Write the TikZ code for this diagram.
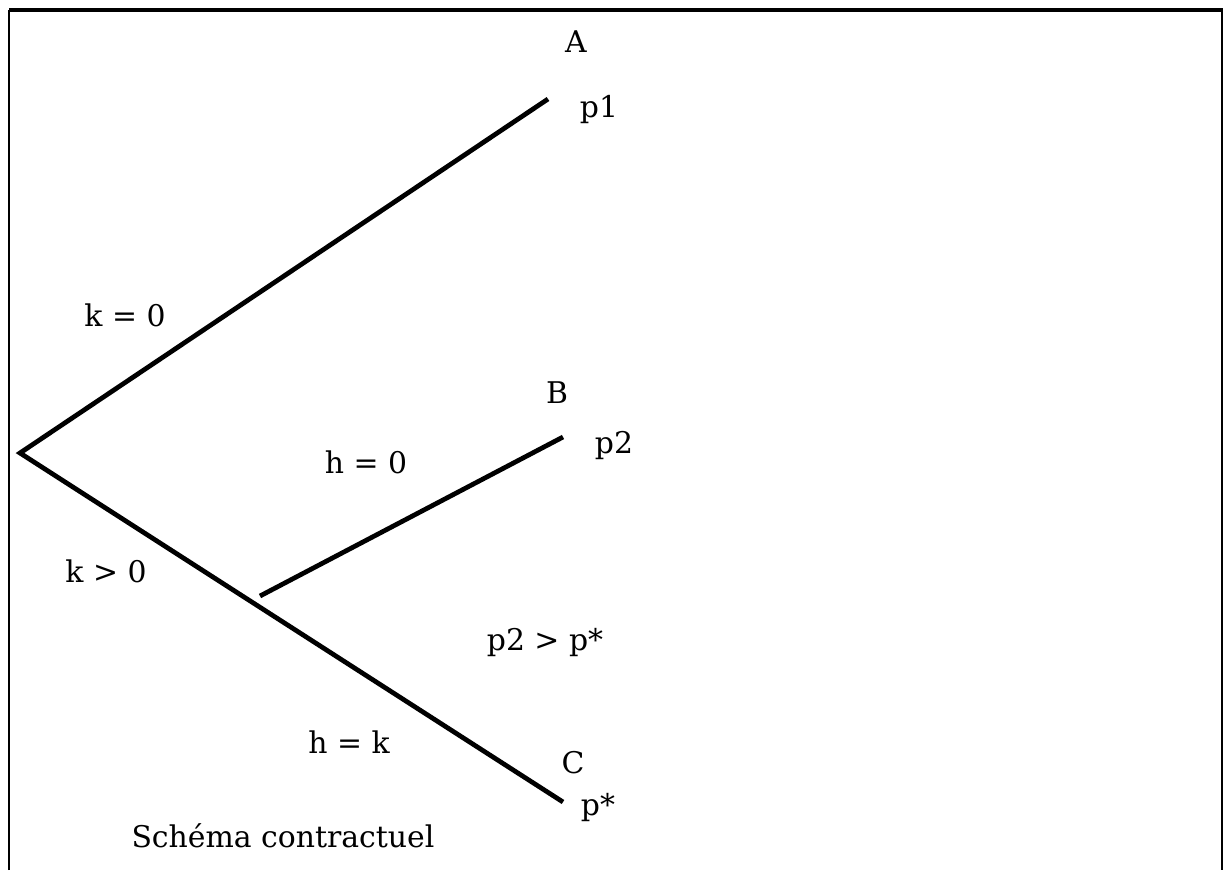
\documentclass[tikz,border=0pt]{standalone}
\usepackage{fontspec}
\setmainfont{DejaVu Serif}
\begin{document}
\begin{tikzpicture}[x=0.02cm, y=-0.02cm, font=\fontsize{17}{20}\selectfont,
  branche/.style={line width=2.7pt},
  etiq/.style={anchor=base}]

\useasboundingbox (0, 0) rectangle (1223, 870);

% ── Cadre (ouvert en bas) ─────────────────────────────────────
\draw[line width=1.2pt] (9, 870) -- (9, 10);
\draw[line width=2pt] (9, 10) -- (1223, 10);
\draw[line width=0.8pt] (1222, 10) -- (1222, 870);

% ── Noeuds de l'arbre ─────────────────────────────────────────
\coordinate (racine) at (20, 453);
\coordinate (finA)   at (548, 99);
\coordinate (finC)   at (563, 802);
\coordinate (depB)   at (260, 596);
\coordinate (finB)   at (563, 437);

% ── Branches ──────────────────────────────────────────────────
\draw[branche] (finA) -- (racine) -- (finC);
\draw[branche] (depB) -- (finB);

% ── Issues ────────────────────────────────────────────────────
\node[etiq] (A)  at (576, 52)  {A};
\node[etiq] (p1) at (599, 117) {p1};
\node[etiq] (B)  at (557, 403) {B};
\node[etiq] (p2) at (614, 453) {p2};
\node[etiq] (C)  at (573, 773) {C};
\node[etiq] (ps) at (598, 815) {p*};

% ── Conditions sur les branches ───────────────────────────────
\node[etiq] (k0) at (125, 326) {k = 0};
\node[etiq] (kp) at (106, 582) {k > 0};
\node[etiq] (h0) at (366, 473) {h = 0};
\node[etiq] (hk) at (349, 753) {h = k};
\node[etiq] (cmp) at (545, 650) {p2 > p*};

% ── Titre ─────────────────────────────────────────────────────
\node[etiq] (titre) at (283, 847) {Schéma contractuel};

\end{tikzpicture}
\end{document}
